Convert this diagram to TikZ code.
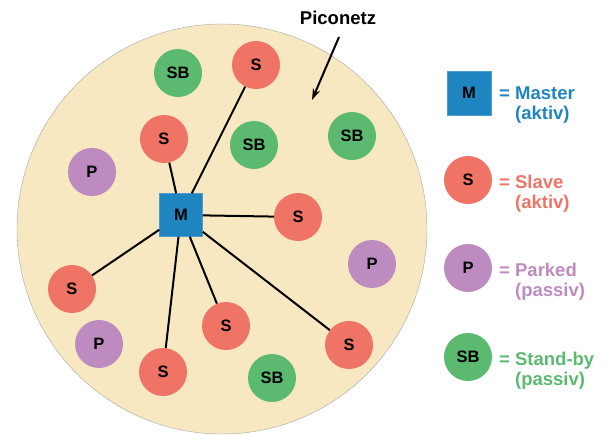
\documentclass[tikz,border=0pt]{standalone}
\usepackage{fontspec}
\setmainfont{Liberation Sans}
\usetikzlibrary{positioning, arrows.meta}
\definecolor{netfill}{HTML}{F8E8C2}
\definecolor{mastercol}{HTML}{1F85C0}
\definecolor{slavecol}{HTML}{EF7466}
\definecolor{parkedcol}{HTML}{BD8BC0}
\definecolor{standbycol}{HTML}{5BBA6F}
\tikzset{
every node/.style = {font = \bfseries\fontsize{16.5}{19}\selectfont},
master/.style = {rectangle, fill = mastercol, draw = mastercol!80!white, thin,
   minimum size = 43pt, inner sep = 0pt},
slave/.style = {circle, fill = slavecol, minimum size = 48pt, inner sep = 0pt},
parked/.style = {circle, fill = parkedcol, minimum size = 48pt, inner sep = 0pt},
standby/.style = {circle, fill = standbycol, minimum size = 48pt, inner sep = 0pt},
link/.style = {line width = 2pt, black},
pointer/.style = {-{Stealth[length = 4mm, width = 2.6mm]}, line width = 2pt},
legend/.style = {anchor = base west, inner sep = 0pt,
   font = \bfseries\fontsize{18.5}{20}\selectfont}
}

\begin{document}
\begin{tikzpicture}[x = 1pt, y = -1pt]
\useasboundingbox (0,0) rectangle (607,434);

%% Piconet area
\begin{scope}
   \clip (0,0) rectangle (607,434);
   \fill [netfill, draw = gray!70, thin] (222,229) circle [radius = 205];
\end{scope}
\node [font = \bfseries\fontsize{18.5}{20}\selectfont] (title) at (338,18) {Piconetz};
\coordinate (tip) at (312,100);
\draw [pointer] (339,37) -- (tip);

%% Master and slaves
\node [master] (m) at (181,215) {M};
\foreach \n/\x/\y in {1/256/65, 2/164/139, 3/298/217, 4/72/289, 5/226/326, 6/349/345, 7/163/372} {
   \node [slave] (s\n) at (\x,\y) {S};
   \draw [link] (m) -- (s\n);
}

%% Parked and stand-by
\foreach \n/\x/\y in {1/92/172, 2/372/264, 3/99/344}
   \node [parked] (p\n) at (\x,\y) {P};
\foreach \n/\x/\y in {1/178/73, 2/254/145, 3/352/136, 4/272/378}
   \node [standby] (sb\n) at (\x,\y) {SB};

%% Legend
\node [master, minimum size = 44pt] (keym) at (469,93) {M};
\node [slave] (keys) at (468,180) {S};
\node [parked] (keyp) at (468,268) {P};
\node [standby] (keysb) at (468,357) {SB};
\foreach \k/\y/\c/\a/\b in {m/99/mastercol/Master/(aktiv), s/188/slavecol/Slave/(aktiv),
   p/276/parkedcol/Parked/(passiv), sb/365/standbycol/Stand-by/(passiv)}
   \node [legend, text = \c] (text\k) at (499,\y)
      {= \begin{tabular}[t]{@{}l@{}}\a\\\b\end{tabular}};

\end{tikzpicture}
\end{document}
